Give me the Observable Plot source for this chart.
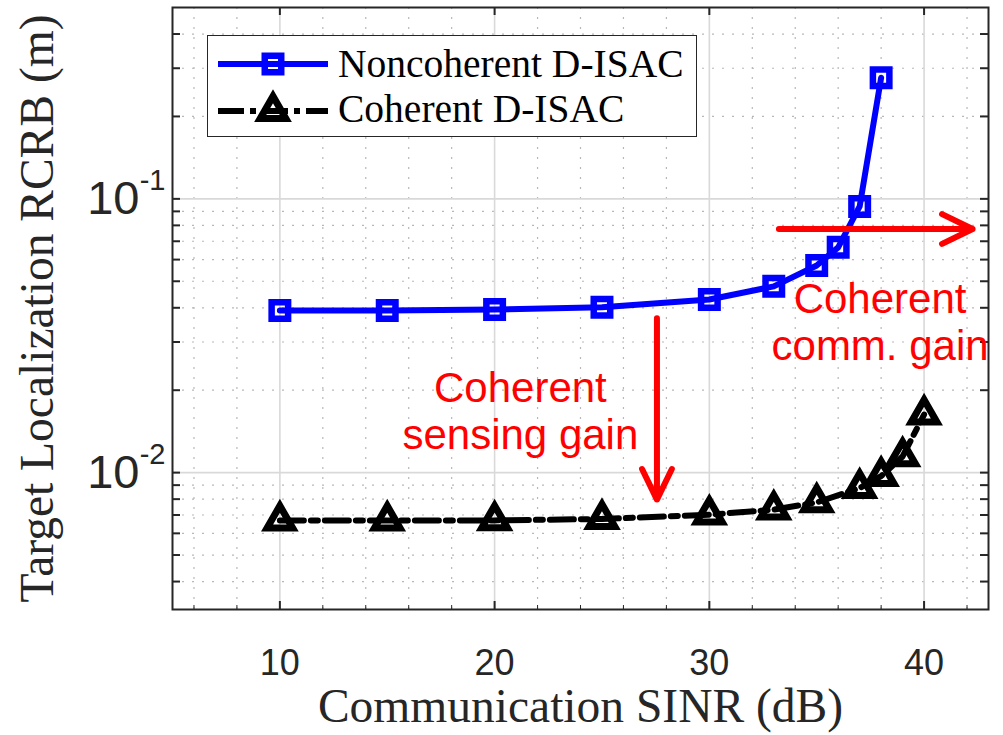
<!DOCTYPE html>
<html>
<head>
<meta charset="utf-8">
<script src="https://cdn.jsdelivr.net/npm/d3@7"></script>
<script src="https://cdn.jsdelivr.net/npm/@observablehq/plot@0.6"></script>
<style>
  body { margin: 0; background: #fff; }
  #chart { position: relative; width: 1003px; height: 735px; }
  #legend {
    position: absolute; left: 207px; top: 35px; width: 488px; height: 100px;
    border: 1.5px solid #262626; background: #fff;
    font-family: "Liberation Serif", "Times New Roman", serif; font-size: 39.5px; color: #000;
  }
  #legend .row { position: absolute; left: 10px; height: 46px; display: flex; align-items: center; }
  #legend .row span { margin-left: 10px; white-space: nowrap; }
</style>
</head>
<body>
<div id="chart"></div>
<script>
// ---- data ----
const seriesNames = ["Noncoherent D-ISAC", "Coherent D-ISAC"];
const sinrNon = [10, 15, 20, 25, 30, 33, 35, 36, 37, 38];
const rcrbNon = [0.0391, 0.0391, 0.0394, 0.0402, 0.0429, 0.0479, 0.0571, 0.0665, 0.0938, 0.277];
const sinrCoh = [10, 15, 20, 25, 30, 33, 35, 37, 38, 39, 40];
const rcrbCoh = [0.00668, 0.00668, 0.00669, 0.00677, 0.00702, 0.00732, 0.00778, 0.00878, 0.00971, 0.01146, 0.0163];

const xMajor = [10, 20, 30, 40];
const xMinor = [6, 8, 12, 14, 16, 18, 22, 24, 26, 28, 32, 34, 36, 38, 42];
const yMajor = [0.01, 0.1];
const yExp = ["-2", "-1"];
const yMinor = [0.004, 0.005, 0.006, 0.007, 0.008, 0.009,
                0.02, 0.03, 0.04, 0.05, 0.06, 0.07, 0.08, 0.09,
                0.2, 0.3, 0.4];
const xLabel = "Communication SINR (dB)";
const yLabel = "Target Localization RCRB (m)";

const noteText = ["Coherent\nsensing gain", "Coherent\ncomm. gain"];
const noteX = [21.2, 37.95];
const noteY = [0.0169, 0.0356];
const arrowX1 = [27.56, 33.24];
const arrowY1 = [0.0366, 0.0776];
const arrowX2 = [27.56, 42.26];
const arrowY2 = [0.00797, 0.0776];

// ---- tables ----
const non = sinrNon.map((x, i) => ({x, y: rcrbNon[i]}));
const coh = sinrCoh.map((x, i) => ({x, y: rcrbCoh[i]}));
const notes = noteText.map((t, i) => ({t, x: noteX[i], y: noteY[i]}));
const arrows = arrowX1.map((x1, i) => ({x1, y1: arrowY1[i], x2: arrowX2[i], y2: arrowY2[i]}));

const W = 1003, H = 735, mL = 172, mR = 15, mT = 7, mB = 126;
const FW = W - mL - mR, FH = H - mT - mB;
const sans = "'Liberation Sans', Arial, Helvetica, sans-serif";
const serif = "'Liberation Serif', 'Times New Roman', serif";
const axisColor = "#262626";
const tick = 8;

const blue = "#0000ff", red = "#ff0000";
const sqR = 9.3, triR = 9.5;

const plot = Plot.plot({
  width: W, height: H,
  marginLeft: mL, marginRight: mR, marginTop: mT, marginBottom: mB,
  x: {type: "linear", domain: [5, 43], axis: null},
  y: {type: "log", domain: [Math.pow(10, -2.5), 0.5], axis: null},
  style: {background: "#fff", overflow: "visible"},
  marks: [
    // grids
    Plot.gridX(xMinor, {stroke: "#b8b8b8", strokeOpacity: 1, strokeWidth: 1.2, strokeDasharray: "2,8"}),
    Plot.gridY(yMinor, {stroke: "#b8b8b8", strokeOpacity: 1, strokeWidth: 1.2, strokeDasharray: "2,8"}),
    Plot.gridX(xMajor, {stroke: "#d9d9d9", strokeOpacity: 1, strokeWidth: 1.6}),
    Plot.gridY(yMajor, {stroke: "#d9d9d9", strokeOpacity: 1, strokeWidth: 1.6}),
    // inward ticks
    Plot.tickX(xMajor, {x: d => d, insetTop: FH - tick, stroke: axisColor, strokeWidth: 2}),
    Plot.tickX(xMajor, {x: d => d, insetBottom: FH - tick, stroke: axisColor, strokeWidth: 2}),
    Plot.tickX(xMinor, {x: d => d, insetTop: FH - 4, stroke: axisColor, strokeWidth: 1}),
    Plot.tickY(yMajor.concat(yMinor), {y: d => d, insetRight: FW - tick, stroke: axisColor, strokeWidth: 2}),
    Plot.tickY(yMajor.concat(yMinor), {y: d => d, insetLeft: FW - tick, stroke: axisColor, strokeWidth: 2}),
    Plot.frame({stroke: axisColor, strokeWidth: 2}),
    // tick labels
    Plot.text(xMajor, {x: d => d, frameAnchor: "bottom", dy: 40, lineAnchor: "top", text: d => String(d),
      fontSize: 36, fontFamily: sans, fill: axisColor}),
    Plot.text(yMajor, {y: d => d, frameAnchor: "left", dx: -33, textAnchor: "end", lineAnchor: "middle",
      text: () => "10", fontSize: 47, fontFamily: sans, fill: axisColor}),
    Plot.text(yMajor, {y: d => d, frameAnchor: "left", dx: -7, dy: -18, textAnchor: "end", lineAnchor: "middle",
      text: (d, i) => yExp[i], fontSize: 29, fontFamily: sans, fill: axisColor}),
    // axis labels
    Plot.text([xLabel], {frameAnchor: "bottom", dy: 97, textAnchor: "middle", lineAnchor: "middle",
      text: d => d, fontSize: 47.5, fontFamily: serif, fill: axisColor}),
    Plot.text([yLabel], {frameAnchor: "left", dx: -135, rotate: -90, textAnchor: "middle", lineAnchor: "middle",
      text: d => d, fontSize: 47.5, fontFamily: serif, fill: axisColor}),
    // series
    Plot.line(non, {x: "x", y: "y", stroke: blue, strokeWidth: 6}),
    Plot.dot(non, {x: "x", y: "y", symbol: "square", r: sqR, stroke: blue, strokeWidth: 6.5, fill: "none", strokeLinejoin: "miter"}),
    Plot.line(coh, {x: "x", y: "y", stroke: "#000", strokeWidth: 6, strokeDasharray: "24,7,7,7"}),
    Plot.dot(coh, {x: "x", y: "y", symbol: "triangle", r: triR, stroke: "#000", strokeWidth: 7, fill: "none", strokeLinejoin: "miter"}),
    // annotations
    Plot.arrow(arrows, {x1: "x1", y1: "y1", x2: "x2", y2: "y2", stroke: red, strokeWidth: 6,
      headLength: 8.5, headAngle: 52, bend: 0}),
    Plot.text(notes, {x: "x", y: "y", text: "t", fill: red, fontSize: 42, fontFamily: sans,
      lineHeight: 1.12, textAnchor: "middle", lineAnchor: "middle"})
  ]
});

const chart = document.getElementById("chart");
chart.appendChild(plot);

// legend (inside axes, top-left)
const sq = d3.symbol(d3.symbolSquare, Math.PI * sqR * sqR)();
const tri = d3.symbol(d3.symbolTriangle, Math.PI * triR * triR)();
const legend = document.createElement("div");
legend.id = "legend";
legend.innerHTML = `
  <div class="row" style="top:5px">
    <svg width="110" height="46" viewBox="0 0 110 46">
      <line x1="0" y1="23" x2="110" y2="23" stroke="${blue}" stroke-width="6"/>
      <path d="${sq}" transform="translate(55,23)" fill="none" stroke="${blue}" stroke-width="6.5" stroke-linejoin="miter"/>
    </svg><span>${seriesNames[0]}</span>
  </div>
  <div class="row" style="top:50px">
    <svg width="110" height="46" viewBox="0 0 110 46">
      <line x1="0" y1="25" x2="110" y2="25" stroke="#000" stroke-width="6" stroke-dasharray="26,6,6,6"/>
      <path d="${tri}" transform="translate(55,25)" fill="none" stroke="#000" stroke-width="7" stroke-linejoin="miter"/>
    </svg><span>${seriesNames[1]}</span>
  </div>`;
chart.appendChild(legend);
</script>
</body>
</html>
